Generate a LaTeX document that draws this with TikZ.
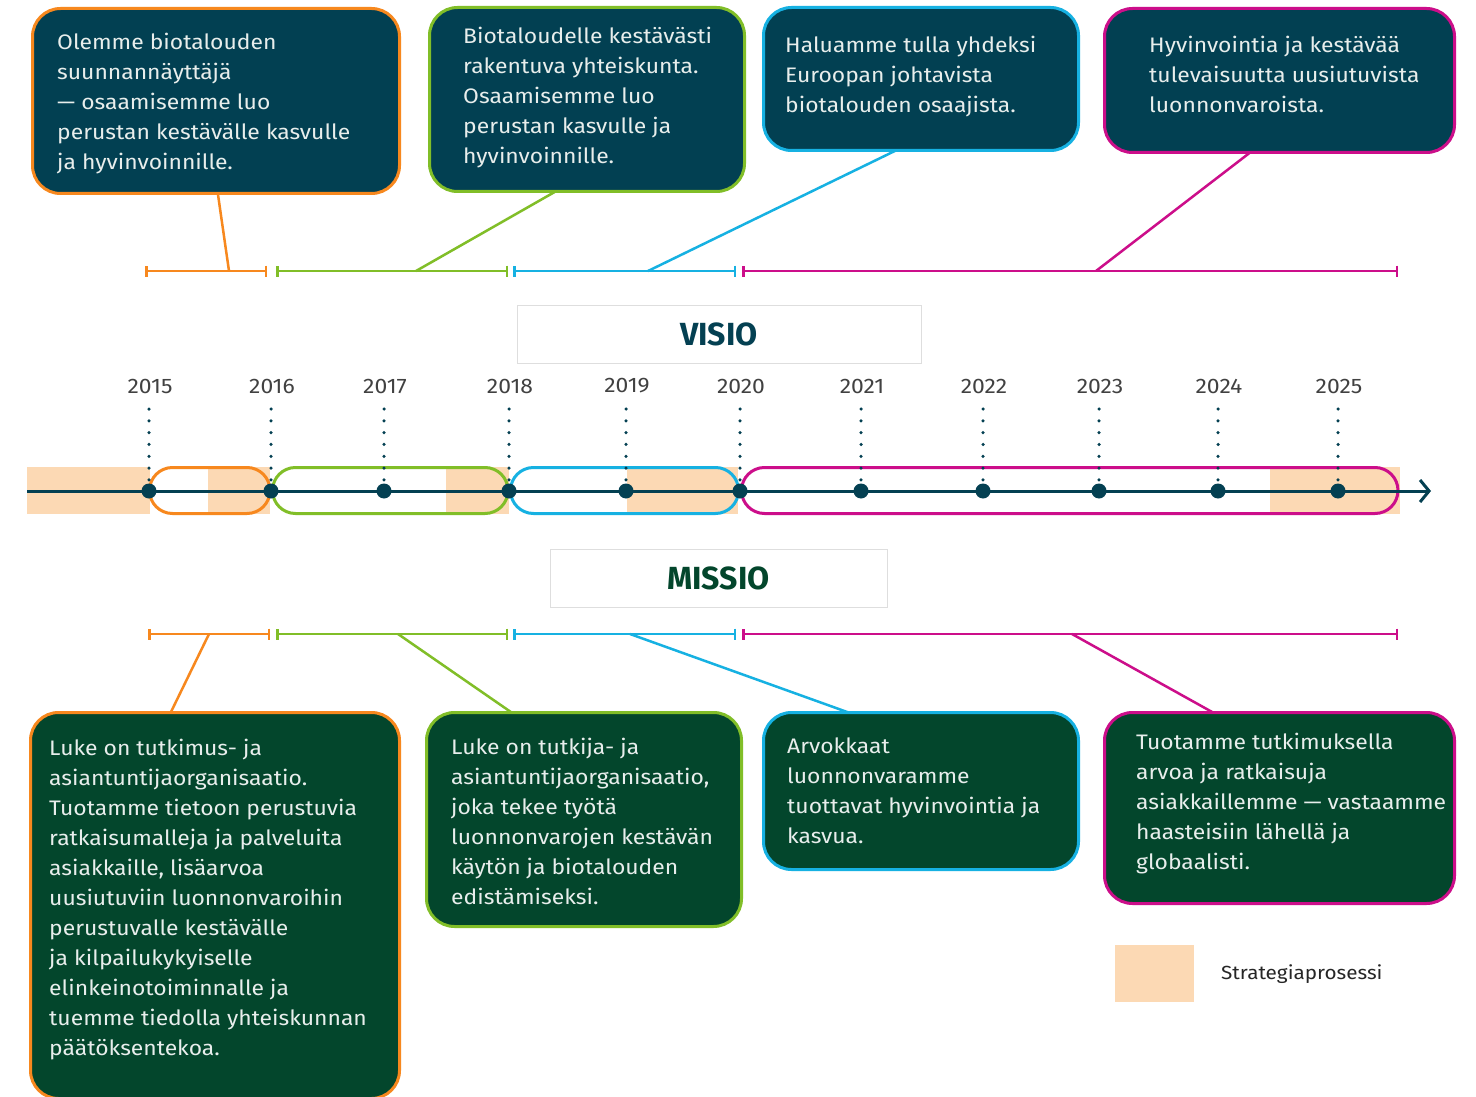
\documentclass[tikz,border=0pt]{standalone}
\usepackage{fontspec}
\setmainfont{Fira Sans}[FakeStretch=1.09]
\newfontfamily\titlefont{Fira Sans}
\usetikzlibrary{arrows.meta,calc}

\definecolor{tealbg}{RGB}{2,64,82}
\definecolor{greenbg}{RGB}{3,70,44}
\definecolor{lorange}{RGB}{247,136,30}
\definecolor{lgreen}{RGB}{129,190,40}
\definecolor{lcyan}{RGB}{22,177,226}
\definecolor{lmagenta}{RGB}{204,14,138}
\definecolor{peach}{RGB}{252,217,180}
\definecolor{axiscol}{RGB}{4,64,82}
\definecolor{boxtxt}{RGB}{232,238,236}
\definecolor{yeargray}{RGB}{65,65,65}
\definecolor{framegray}{RGB}{222,222,222}

\tikzset{
  vbox/.style={rectangle, draw=#1, fill=tealbg, line width=3pt,
    rounded corners=28pt, inner sep=0pt, outer sep=0pt},
  mbox/.style={rectangle, draw=#1, fill=greenbg, line width=3pt,
    rounded corners=28pt, inner sep=0pt, outer sep=0pt},
  boxtext/.style={anchor=north west, inner sep=0pt, align=left,
    text=boxtxt, font=\fontsize{21}{30}\selectfont},
  bracket/.style={draw=#1, line width=2.5pt, {Bar[width=11pt]}-{Bar[width=11pt]}},
  link/.style={draw=#1, line width=2.5pt},
  capsule/.style={draw=#1, line width=3pt, rounded corners=23pt},
  yeardot/.style={circle, fill=axiscol, minimum size=15pt, inner sep=0pt, outer sep=0pt},
  yearlbl/.style={text=yeargray, font=\fontsize{21}{24}\selectfont, inner sep=0pt},
  guide/.style={draw=axiscol, line width=3.5pt, line cap=round,
    dash pattern=on 0pt off 11.83pt},
  titlebox/.style={rectangle, draw=framegray, line width=1pt, fill=white,
    font=\titlefont\fontsize{32}{36}\bfseries\selectfont, inner sep=0pt},
}

\begin{document}
\begin{tikzpicture}[x=1pt,y=-1pt]
\useasboundingbox[fill=white] (0,0) rectangle (1476,1097);

% ---- vision boxes (top row)
\node[vbox=lorange,  minimum width=367pt, minimum height=185pt] (v1) at (216,101) {};
\node[vbox=lgreen,   minimum width=315pt, minimum height=184pt] (v2) at (587,99.5) {};
\node[vbox=lcyan,    minimum width=315pt, minimum height=143pt] (v3) at (921,79) {};
\node[vbox=lmagenta, minimum width=350pt, minimum height=144pt] (v4) at (1279.5,80.5) {};

\node[boxtext] (t1) at (57,33) {Olemme biotalouden\\suunnannäyttäjä\\— osaamisemme luo\\perustan kestävälle kasvulle\\ja hyvinvoinnille.};
\node[boxtext] (t2) at (463,27) {Biotaloudelle kestävästi\\rakentuva yhteiskunta.\\Osaamisemme luo\\perustan kasvulle ja\\hyvinvoinnille.};
\node[boxtext] (t3) at (785,36) {Haluamme tulla yhdeksi\\Euroopan johtavista\\biotalouden osaajista.};
\node[boxtext] (t4) at (1149,36) {Hyvinvointia ja kestävää\\tulevaisuutta uusiutuvista\\luonnonvaroista.};

% ---- mission boxes (bottom row)
\node[mbox=lorange,  minimum width=369pt, minimum height=386pt] (m1) at (215,905.5) {};
\node[mbox=lgreen,   minimum width=315pt, minimum height=214pt] (m2) at (584,819.5) {};
\node[mbox=lcyan,    minimum width=315pt, minimum height=157pt] (m3) at (921,791) {};
\node[mbox=lmagenta, minimum width=350pt, minimum height=191pt] (m4) at (1279.5,808) {};

\node[boxtext] (t5) at (49,739) {Luke on tutkimus- ja\\asiantuntijaorganisaatio.\\Tuotamme tietoon perustuvia\\ratkaisumalleja ja palveluita\\asiakkaille, lisäarvoa\\uusiutuviin luonnonvaroihin\\perustuvalle kestävälle\\ja kilpailukykyiselle\\elinkeinotoiminnalle ja\\tuemme tiedolla yhteiskunnan\\päätöksentekoa.};
\node[boxtext] (t6) at (451,738) {Luke on tutkija- ja\\asiantuntijaorganisaatio,\\joka tekee työtä\\luonnonvarojen kestävän\\käytön ja biotalouden\\edistämiseksi.};
\node[boxtext] (t7) at (787,738) {Arvokkaat\\luonnonvaramme\\tuottavat hyvinvointia ja\\kasvua.};
\node[boxtext] (t8) at (1136,733) {Tuotamme tutkimuksella\\arvoa ja ratkaisuja\\asiakkaillemme — vastaamme\\haasteisiin lähellä ja\\globaalisti.};

% ---- period brackets above the timeline
\coordinate (va1) at (145,271); \coordinate (vb1) at (267,271);
\coordinate (va2) at (276,271); \coordinate (vb2) at (508,271);
\coordinate (va3) at (513,271); \coordinate (vb3) at (736,271);
\coordinate (va4) at (742,271); \coordinate (vb4) at (1398,271);
\draw[bracket=lorange]  (va1) -- (vb1);
\draw[bracket=lgreen]   (va2) -- (vb2);
\draw[bracket=lcyan]    (va3) -- (vb3);
\draw[bracket=lmagenta] (va4) -- (vb4);

\coordinate (vj1) at (229,271);
\coordinate (vj2) at (416,271);
\coordinate (vj3) at (648,271);
\coordinate (vj4) at (1096,271);
\draw[link=lorange]  (vj1) -- ($(v1.south west)!0.505!(v1.south east)$);
\draw[link=lgreen]   (vj2) -- ($(v2.south west)!0.40!(v2.south east)$);
\draw[link=lcyan]    (vj3) -- ($(v3.south west)!0.42!(v3.south east)$);
\draw[link=lmagenta] (vj4) -- ($(v4.south west)!0.416!(v4.south east)$);

% ---- period brackets below the timeline
\coordinate (ma1) at (148,634); \coordinate (mb1) at (270,634);
\coordinate (ma2) at (276,634); \coordinate (mb2) at (508,634);
\coordinate (ma3) at (513,634); \coordinate (mb3) at (736,634);
\coordinate (ma4) at (742,634); \coordinate (mb4) at (1398,634);
\draw[bracket=lorange]  (ma1) -- (mb1);
\draw[bracket=lgreen]   (ma2) -- (mb2);
\draw[bracket=lcyan]    (ma3) -- (mb3);
\draw[bracket=lmagenta] (ma4) -- (mb4);

\coordinate (mj1) at (209,634);
\coordinate (mj2) at (398,634);
\coordinate (mj3) at (630,634);
\coordinate (mj4) at (1072,634);
\draw[link=lorange]  (mj1) -- ($(m1.north west)!0.38!(m1.north east)$);
\draw[link=lgreen]   (mj2) -- ($(m2.north west)!0.27!(m2.north east)$);
\draw[link=lcyan]    (mj3) -- ($(m3.north west)!0.27!(m3.north east)$);
\draw[link=lmagenta] (mj4) -- ($(m4.north west)!0.31!(m4.north east)$);

% ---- titles
\node[titlebox, minimum width=404pt, minimum height=58pt, text=axiscol] (visio) at (719,334) {VISIO};
\node[titlebox, minimum width=337pt, minimum height=58pt, text=greenbg] (missio) at (718.5,578) {MISSIO};

% ---- strategy process periods
\fill[peach] (27,467) rectangle (150,514);
\fill[peach] (208,467) rectangle (270,514);
\fill[peach] (446,467) rectangle (509,514);
\fill[peach] (627,467) rectangle (738,514);
\fill[peach] (1270,467) rectangle (1400,514);

% ---- strategy periods as capsules
\draw[capsule=lorange]  (149.5,467.5) rectangle (270,513.5);
\draw[capsule=lgreen]   (272.5,467.5) rectangle (508,513.5);
\draw[capsule=lcyan]    (510.5,467.5) rectangle (738.5,513.5);
\draw[capsule=lmagenta] (741.5,467.5) rectangle (1398,513.5);

% ---- time axis
\coordinate (ax0) at (27,491);
\coordinate (ax1) at (1431,491);
\draw[draw=axiscol, line width=3pt, -{Straight Barb[length=9pt, width=22pt, line width=3pt]}] (ax0) -- (ax1);

\foreach \x/\yr in {149/2015, 271/2016, 384/2017, 509/2018, 626/2019, 740/2020,
                    861/2021, 983/2022, 1099/2023, 1218/2024, 1338/2025} {
  \node[yeardot] (d\yr) at (\x,491) {};
  \node[yearlbl] (l\yr) at (\x+1,386) {\yr};
  \draw[guide] (\x,409) -- (d\yr.north);
}

% ---- legend
\node[rectangle, fill=peach, minimum width=79pt, minimum height=57pt, inner sep=0pt] (leg) at (1154.5,973.5) {};
\node[anchor=west, inner sep=0pt, font=\fontsize{19}{21}\selectfont, text=black!85] (legtxt) at (1221,974) {Strategiaprosessi};

\end{tikzpicture}
\end{document}
